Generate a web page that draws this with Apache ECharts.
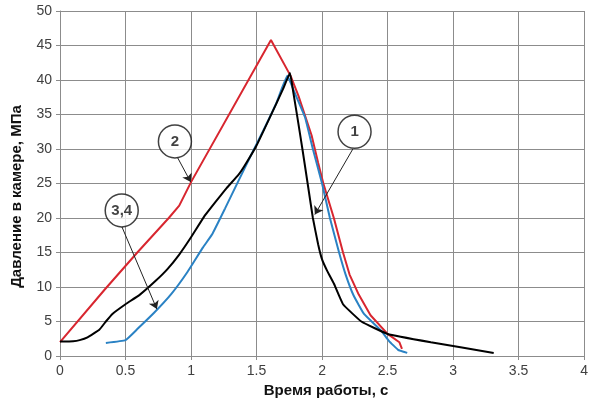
<!DOCTYPE html>
<html>
<head>
<meta charset="utf-8">
<script src="https://cdn.jsdelivr.net/npm/echarts@6/dist/echarts.min.js"></script>
<style>
  html, body { margin: 0; padding: 0; background: #fff; }
  #chart { width: 591px; height: 403px; }
</style>
</head>
<body>
<div id="chart"></div>
<script>
// Pressure in the chamber vs. operating time, [t (s), p (MPa)]
const curve1 = [
  [0, 2.1], [0.1, 2.15], [0.15, 2.3], [0.21, 2.7], [0.3, 3.8], [0.35, 5.0], [0.4, 6.1], [0.5, 7.5],
  [0.61, 8.9], [0.73, 10.9], [0.82, 12.6], [0.91, 14.7], [1.0, 17.2], [1.1, 20.2],
  [1.19, 22.4], [1.27, 24.3], [1.36, 26.2], [1.41, 27.6], [1.5, 30.5],
  [1.6, 34.5], [1.7, 38.6], [1.755, 41.0], [1.78, 38.3], [1.81, 34.8],
  [1.85, 30.0], [1.89, 25.0], [1.93, 20.0], [1.97, 16.2], [2.0, 14.0],
  [2.04, 12.3], [2.09, 10.5], [2.16, 7.5], [2.3, 5.0], [2.5, 3.2],
  [2.83, 2.0], [3.31, 0.45]
];
const curve2 = [
  [0, 2.0], [0.34, 9.6], [0.59, 15.0], [0.83, 20.0], [0.91, 21.8],
  [1.0, 25.2], [1.61, 45.8], [1.76, 40.6],
  [1.82, 37.7], [1.92, 32.0], [1.97, 28.0], [2.01, 25.0], [2.09, 20.0],
  [2.16, 15.0], [2.21, 11.8], [2.28, 8.9], [2.37, 5.9], [2.5, 3.2],
  [2.59, 2.0], [2.61, 1.05]
];
const curve34 = [
  [0.35, 1.9], [0.5, 2.3], [0.59, 3.9], [0.72, 6.3], [0.85, 9.0], [0.97, 12.1],
  [1.09, 15.7], [1.16, 17.6], [1.26, 21.4], [1.36, 25.3], [1.45, 28.8],
  [1.55, 32.6], [1.65, 36.6], [1.735, 40.6], [1.79, 38.2], [1.87, 34.6],
  [1.93, 30.0], [2.0, 25.0], [2.06, 20.0], [2.13, 15.0], [2.18, 11.8],
  [2.24, 8.8], [2.32, 6.1], [2.45, 3.7], [2.51, 2.2], [2.58, 0.9], [2.65, 0.45]
];

// Callout bubbles: label, centre [t, p]
const calloutLabels = ['1', '2', '3,4'];
const calloutCentres = [[2.248, 32.5], [0.877, 31.1], [0.471, 21.1]];
// Leader arrows: from the bubble edge to the curve
const leaderFrom = [[2.235, 30.0], [0.896, 28.8], [0.473, 18.7]];
const leaderTo = [[1.945, 20.5], [0.998, 25.2], [0.739, 6.8]];

const xTicks = { min: 0, max: 4, step: 0.5 };
const yTicks = { min: 0, max: 50, step: 5 };

const gridColor = '#8c8c8c';
const labelFont = 'Liberation Sans, Arial, sans-serif';

const chart = echarts.init(document.getElementById('chart'), null, { renderer: 'canvas' });

const lineStyleOf = (color) => ({ color: color, width: 2 });

chart.setOption({
  animation: false,
  grid: { left: 60, right: 3, top: 11, bottom: 44, containLabel: false },
  xAxis: {
    type: 'value',
    min: xTicks.min, max: xTicks.max, interval: xTicks.step,
    name: 'Время работы, с',
    nameLocation: 'middle',
    nameGap: 27,
    nameTextStyle: { fontFamily: labelFont, fontSize: 15, fontWeight: 'bold', color: '#111', padding: [0, 0, 0, 8] },
    axisLine: { show: true, lineStyle: { color: gridColor, width: 1 } },
    axisTick: { show: true, length: 4, lineStyle: { color: gridColor } },
    axisLabel: { fontFamily: labelFont, fontSize: 14, color: '#404040', margin: 8 },
    splitLine: { show: true, lineStyle: { color: gridColor, width: 1 } }
  },
  yAxis: {
    type: 'value',
    min: yTicks.min, max: yTicks.max, interval: yTicks.step,
    name: 'Давление в камере, МПа',
    nameLocation: 'middle',
    nameGap: 36,
    nameRotate: 90,
    nameTextStyle: { fontFamily: labelFont, fontSize: 15, fontWeight: 'bold', color: '#111', padding: [0, 26, 0, 0] },
    axisLine: { show: true, lineStyle: { color: gridColor, width: 1 } },
    axisTick: { show: true, length: 4, lineStyle: { color: gridColor } },
    axisLabel: { fontFamily: labelFont, fontSize: 14, color: '#404040', margin: 8 },
    splitLine: { show: true, lineStyle: { color: gridColor, width: 1 } }
  },
  series: [
    {
      name: '2', type: 'line', data: curve2, showSymbol: false, smooth: false,
      lineStyle: lineStyleOf('#d8262f'), z: 2
    },
    {
      name: '3,4', type: 'line', data: curve34, showSymbol: false, smooth: 0.1,
      lineStyle: lineStyleOf('#2a82c4'), z: 3
    },
    {
      name: '1', type: 'line', data: curve1, showSymbol: false, smooth: 0.1,
      lineStyle: lineStyleOf('#000000'), z: 4,
      markLine: {
        silent: true,
        symbol: ['none', 'arrow'],
        symbolSize: 8,
        label: { show: false },
        lineStyle: { color: '#222', width: 1, type: 'solid' },
        data: leaderFrom.map((p, i) => [{ coord: p }, { coord: leaderTo[i] }])
      }
    },
    {
      name: 'callouts', type: 'scatter', z: 6,
      data: calloutCentres.map((c, i) => ({ value: c, name: calloutLabels[i] })),
      symbol: 'circle', symbolSize: 33,
      itemStyle: { color: '#fff', borderColor: '#111', borderWidth: 1.5 },
      label: {
        show: true, position: 'inside', formatter: (p) => p.name,
        fontFamily: labelFont, fontSize: 15, fontWeight: 'bold', color: '#111'
      }
    }
  ]
});
</script>
</body>
</html>
